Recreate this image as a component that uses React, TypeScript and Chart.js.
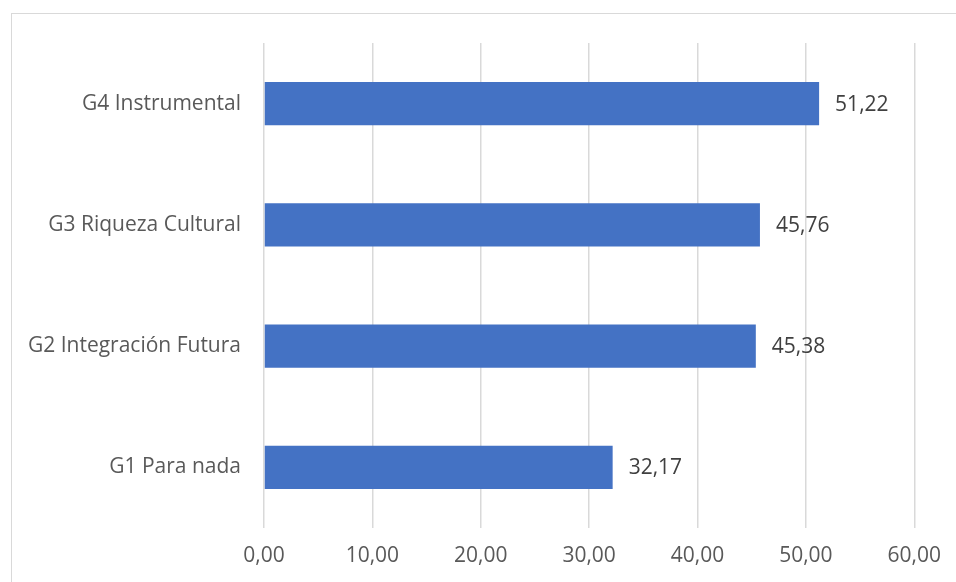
import React, { useEffect, useRef } from "react";
import { Chart, registerables } from "chart.js";

Chart.register(...registerables);

const categories = ["G4 Instrumental", "G3 Riqueza Cultural", "G2 Integración Futura", "G1 Para nada"];
const values = [51.22, 45.76, 45.38, 32.17];
const xTicks = [0, 10, 20, 30, 40, 50, 60];

const FONT = "'Open Sans', sans-serif";
const FSIZE = 21;

const fmt = (v: number, d = 2) => v.toFixed(d).replace(".", ",");

const valueLabels = {
  id: "valueLabels",
  afterDatasetsDraw(chart: any) {
    const ctx = chart.ctx;
    const meta = chart.getDatasetMeta(0);
    ctx.save();
    ctx.font = `${FSIZE}px ${FONT}`;
    ctx.fillStyle = "#404040";
    ctx.textAlign = "left";
    ctx.textBaseline = "middle";
    meta.data.forEach((bar: any, i: number) => {
      ctx.fillText(fmt(values[i]), bar.x + 16, bar.y + 1);
    });
    ctx.restore();
  },
};

export default function App() {
  const ref = useRef<HTMLCanvasElement | null>(null);
  useEffect(() => {
    if (!ref.current) return;
    const chart = new Chart(ref.current, {
      type: "bar",
      data: {
        labels: categories,
        datasets: [
          {
            data: values,
            backgroundColor: "#4472C4",
            borderWidth: 0,
            categoryPercentage: 1,
            barPercentage: 0.355,
          },
        ],
      },
      options: {
        indexAxis: "y",
        animation: false,
        responsive: false,
        maintainAspectRatio: false,
        layout: { padding: { top: 43, right: 41, left: 0, bottom: 0 } },
        plugins: { legend: { display: false }, tooltip: { enabled: false } },
        scales: {
          x: {
            min: 0,
            max: 60,
            afterFit: (s: any) => {
              s.height = 54;
            },
            afterBuildTicks: (s: any) => {
              s.ticks = xTicks.map((v) => ({ value: v }));
            },
            grid: { color: "#d9d9d9", lineWidth: 1.5, drawTicks: false },
            border: { display: false },
            ticks: {
              padding: 15,
              color: "#595959",
              font: { family: FONT, size: FSIZE },
              callback: (v: any) => fmt(Number(v)),
            },
          },
          y: {
            afterFit: (s: any) => {
              s.width = 264;
            },
            grid: { display: false, drawTicks: false },
            border: { display: false },
            ticks: {
              padding: 23,
              color: "#595959",
              font: { family: FONT, size: FSIZE },
            },
          },
        },
      },
      plugins: [valueLabels],
    });
    return () => chart.destroy();
  }, []);

  return (
    <div style={{ position: "fixed", left: 0, top: 0, width: 956, height: 582, overflow: "hidden", background: "#fff" }}>
      <div
        style={{
          position: "absolute",
          left: 11,
          top: 13,
          width: 1000,
          height: 1000,
          border: "1px solid #d9d9d9",
          boxSizing: "border-box",
        }}
      />
      <canvas ref={ref} width={956} height={582} style={{ position: "absolute", left: 0, top: 0 }} />
    </div>
  );
}
